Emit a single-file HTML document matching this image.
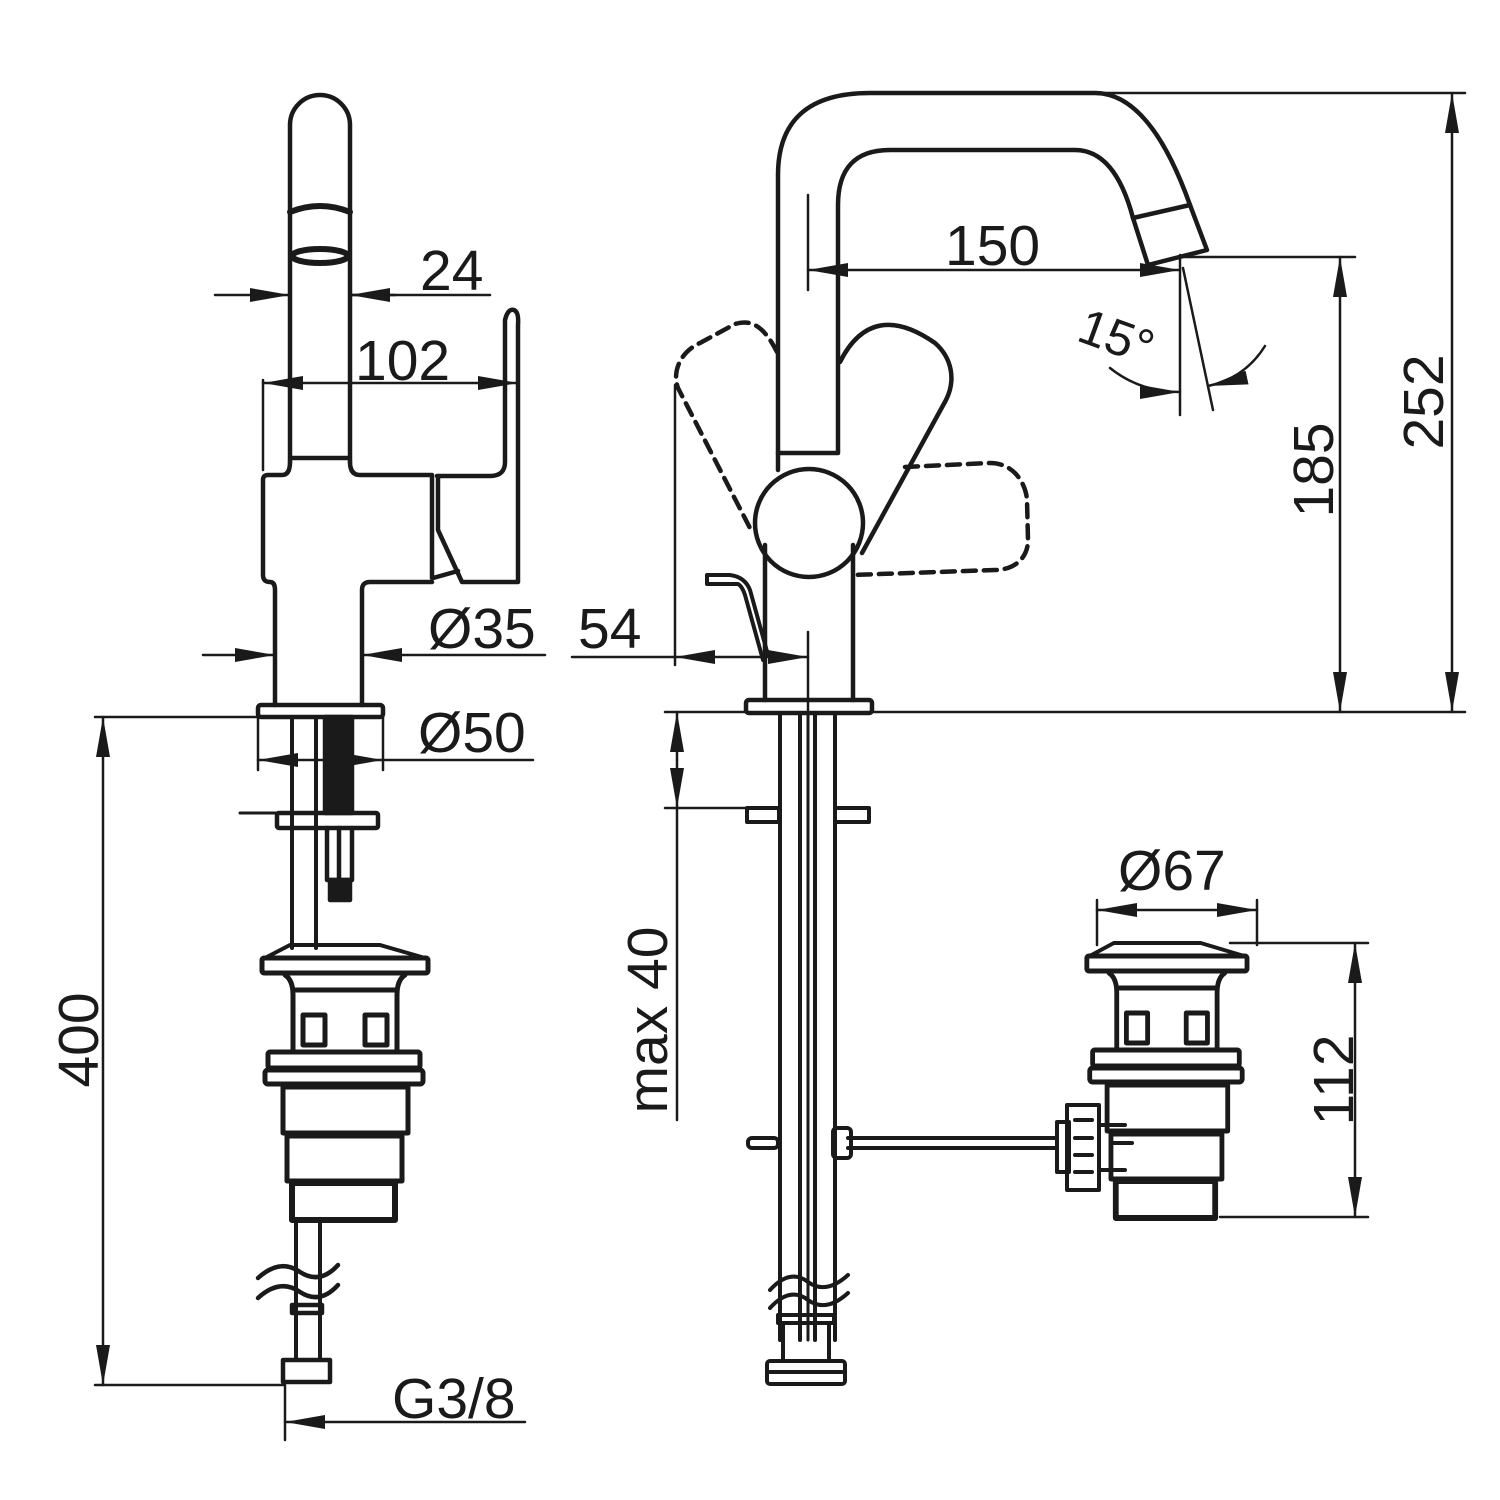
<!DOCTYPE html>
<html><head><meta charset="utf-8"><style>html,body{margin:0;padding:0;background:#fff}svg{display:block}text{font-family:"Liberation Sans",sans-serif;font-size:57px;fill:#1a1a1a}</style></head>
<body>
<svg width="1500" height="1500" viewBox="0 0 1500 1500" xmlns="http://www.w3.org/2000/svg">
<defs>
<marker id="a" viewBox="0 0 40 14" refX="40" refY="7" markerWidth="40" markerHeight="14" markerUnits="userSpaceOnUse" orient="auto-start-reverse"><path d="M0,0 L40,7 L0,14 Z" fill="#1a1a1a"/></marker>
<g id="drain" fill="none" stroke="#1a1a1a" stroke-width="5" stroke-linejoin="round">
<path d="M290,945 L380,945 L425,958 L265,958 Z" stroke-width="4"/>
<rect x="262" y="958" width="166" height="15" rx="2"/>
<path d="M285,975 Q293,980 293,995 L293,1050 M405,975 Q397,980 397,995 L397,1050"/>
<line x1="293" y1="990" x2="397" y2="990"/>
<rect x="303" y="1015" width="22" height="30"/><rect x="365" y="1015" width="22" height="30"/>
<rect x="268" y="1052" width="152" height="16" rx="2"/>
<rect x="265" y="1070" width="158" height="14" rx="3"/>
<rect x="283" y="1087" width="125" height="46"/>
<rect x="287" y="1136" width="115" height="45"/>
<rect x="292" y="1183" width="103" height="37" stroke-width="6"/>
</g>
</defs>
<g fill="none" stroke="#1a1a1a" stroke-width="4.5" stroke-linejoin="round" stroke-linecap="round">
<!-- LEFT VIEW -->
<path d="M290,462 L290,125 A30,30 0 0 1 350,125 L350,462"/>
<path d="M290,212 Q320,200 350,212" stroke-width="6"/>
<ellipse cx="320" cy="256" rx="28" ry="7" stroke-width="6"/>
<line x1="292" y1="458" x2="348" y2="458"/>
<path d="M290,462 Q290,475 282,475 L268,475 Q263,475 263,480 L263,575 Q263,582 270,582 Q275,582 275,590 L275,705"/>
<path d="M350,462 Q350,475 360,475 L432,475 M432,475 L432,578"/>
<path d="M437,476 L490,476 Q505,476 505,462 L505,320 Q508,308 514,310 Q519,312 518,325 L518,582 L462,582 L438,530 L438,478"/>
<path d="M433,578 L458,571"/>
<path d="M362,705 L362,590 Q362,582 370,582 L432,582"/>
<rect x="258" y="705" width="125" height="12" rx="3"/>
<line x1="292" y1="717" x2="292" y2="948" stroke-width="4"/>
<line x1="316" y1="717" x2="316" y2="948" stroke-width="4"/>
<rect x="325" y="717" width="27" height="96" fill="#1a1a1a"/>
<rect x="277" y="813" width="101" height="15" rx="2"/>
<line x1="240" y1="813" x2="277" y2="813" stroke-width="3"/>
<path d="M327,828 L327,880 L352,880 L352,828 M339,828 L339,880"/>
<rect x="330" y="880" width="20" height="20" fill="#1a1a1a"/>
<use href="#drain"/>
<path d="M296,1222 L296,1360 M320,1222 L320,1360" stroke-width="4"/>
<path d="M258,1278 Q280,1258 300,1272 Q320,1285 338,1265 M258,1298 Q280,1278 300,1292 Q320,1305 338,1285" stroke="#1a1a1a"/>
<rect x="292" y="1305" width="30" height="8"/>
<rect x="283" y="1360" width="47" height="22"/>
<!-- dims left -->
<g stroke-width="2.5">
<line x1="215" y1="295" x2="290" y2="295" marker-end="url(#a)"/>
<line x1="395" y1="295" x2="350" y2="295" marker-end="url(#a)"/>
<line x1="350" y1="295" x2="490" y2="295"/>
<line x1="263" y1="380" x2="263" y2="470"/>
<line x1="263" y1="383" x2="518" y2="383" marker-start="url(#a)" marker-end="url(#a)"/>
<line x1="203" y1="655" x2="275" y2="655" marker-end="url(#a)"/>
<line x1="545" y1="655" x2="362" y2="655" marker-end="url(#a)"/>
<line x1="258" y1="717" x2="258" y2="770"/><line x1="383" y1="717" x2="383" y2="770"/>
<line x1="258" y1="760" x2="383" y2="760" marker-start="url(#a)" marker-end="url(#a)"/>
<line x1="383" y1="760" x2="533" y2="760"/>
<line x1="95" y1="717" x2="258" y2="717"/>
<line x1="95" y1="1385" x2="283" y2="1385"/>
<line x1="103" y1="717" x2="103" y2="1385" marker-start="url(#a)" marker-end="url(#a)"/>
<line x1="285" y1="1385" x2="285" y2="1440"/>
<line x1="525" y1="1422" x2="285" y2="1422" marker-end="url(#a)"/>
</g>
<!-- RIGHT VIEW -->
<path d="M778,470 L778,175 Q778,93 870,93 L1095,93 Q1150,93 1190,205"/>
<path d="M838,452 L838,205 Q838,150 890,150 L1075,150 Q1115,150 1133,218"/>
<path d="M1133,218 L1190,205 L1207,250 L1148,265 Z"/>
<line x1="838" y1="453" x2="778" y2="453"/>
<circle cx="809" cy="523" r="54"/>
<path d="M765,545 L765,700 M853,545 L853,700"/>
<rect x="746" y="700" width="126" height="13" rx="3"/>
<path d="M840,362 C862,318 895,315 935,343 C952,358 956,380 946,400 L862,553"/>
<path d="M777,352 C762,322 748,320 735,324 L700,343 C680,352 672,372 678,388 L752,532" stroke-dasharray="13,8"/>
<path d="M905,467 L990,463 C1015,463 1026,485 1027,500 L1028,540 C1028,560 1012,570 995,570 L852,575" stroke-dasharray="13,8"/>
<path d="M707,575 L730,575 Q745,577 750,590 L768,655 M707,575 L707,584 L738,584 Q742,586 745,595 L763,660" stroke-width="4"/>
<!-- below right -->
<g stroke-width="4">
<line x1="780" y1="713" x2="780" y2="1340"/>
<line x1="800" y1="713" x2="800" y2="1340"/>
<line x1="808" y1="713" x2="808" y2="1340" stroke-width="3"/>
<line x1="815" y1="713" x2="815" y2="1340"/>
<line x1="835" y1="713" x2="835" y2="1340"/>
<rect x="747" y="808" width="32" height="14"/><rect x="835" y="808" width="34" height="14"/>
<line x1="665" y1="808" x2="747" y2="808" stroke-width="2.5"/>
<rect x="748" y="1138" width="30" height="10" rx="4"/>
<line x1="848" y1="1138" x2="1055" y2="1138"/><line x1="848" y1="1148" x2="1055" y2="1148"/>
<rect x="833" y="1128" width="18" height="30" rx="4"/>
<path d="M770,1290 Q790,1268 808,1282 Q826,1295 848,1275 M770,1308 Q790,1286 808,1300 Q826,1313 848,1293"/>
<rect x="778" y="1315" width="56" height="8"/>
<rect x="783" y="1323" width="46" height="38"/>
<rect x="767" y="1361" width="78" height="23" rx="3"/>
<line x1="770" y1="1372" x2="842" y2="1372"/>
</g>
<use href="#drain" transform="translate(834,-2) scale(0.965,1)" />
<g stroke-width="4">
<rect x="1057" y="1122" width="12" height="50"/>
<rect x="1067" y="1105" width="32" height="85"/>
<path d="M1075,1120 L1092,1120 M1075,1138 L1092,1138 M1075,1155 L1092,1155 M1075,1172 L1092,1172"/>
<path d="M1099,1125 L1125,1125 M1099,1170 L1125,1170 M1112,1143 L1132,1143"/>
</g>
<!-- dims right -->
<g stroke-width="2.5">
<line x1="1095" y1="93" x2="1465" y2="93"/>
<line x1="1180" y1="257" x2="1355" y2="257"/>
<line x1="870" y1="712" x2="1465" y2="712"/>
<line x1="808" y1="195" x2="808" y2="290"/>
<line x1="1180" y1="255" x2="1180" y2="415"/>
<line x1="808" y1="270" x2="1180" y2="270" marker-start="url(#a)" marker-end="url(#a)"/>
<line x1="1183" y1="268" x2="1213" y2="410"/>
<path d="M1110,368 Q1140,392 1180,392" marker-end="url(#a)"/>
<path d="M1265,346 Q1245,378 1208,386" marker-end="url(#a)"/>
<line x1="1340" y1="257" x2="1340" y2="712" marker-start="url(#a)" marker-end="url(#a)"/>
<line x1="1452" y1="93" x2="1452" y2="712" marker-start="url(#a)" marker-end="url(#a)"/>
<line x1="675" y1="385" x2="675" y2="665"/>
<line x1="808" y1="632" x2="808" y2="712"/>
<line x1="572" y1="657" x2="675" y2="657"/>
<line x1="675" y1="657" x2="808" y2="657" marker-start="url(#a)" marker-end="url(#a)"/>
<line x1="665" y1="712" x2="746" y2="712"/>
<line x1="677" y1="760" x2="677" y2="712" marker-end="url(#a)"/>
<line x1="677" y1="760" x2="677" y2="808" marker-end="url(#a)"/>
<line x1="677" y1="808" x2="677" y2="1120"/>
<line x1="1097" y1="900" x2="1097" y2="945"/><line x1="1257" y1="900" x2="1257" y2="945"/>
<line x1="1097" y1="910" x2="1257" y2="910" marker-start="url(#a)" marker-end="url(#a)"/>
<line x1="1230" y1="943" x2="1368" y2="943"/>
<line x1="1220" y1="1217" x2="1368" y2="1217"/>
<line x1="1355" y1="943" x2="1355" y2="1217" marker-start="url(#a)" marker-end="url(#a)"/>
</g>
</g>
<g>
<text x="420" y="290">24</text>
<text x="355" y="380">102</text>
<text x="428" y="648">Ø35</text>
<text x="418" y="752">Ø50</text>
<text x="392" y="1418">G3/8</text>
<text transform="translate(98,1040) rotate(-90)" text-anchor="middle">400</text>
<text x="945" y="265">150</text>
<text x="578" y="648">54</text>
<text x="1118" y="890">Ø67</text>
<text transform="translate(1333,470) rotate(-90)" text-anchor="middle">185</text>
<text transform="translate(1443,402) rotate(-90)" text-anchor="middle">252</text>
<text transform="translate(667,1020) rotate(-90)" text-anchor="middle">max 40</text>
<text transform="translate(1353,1080) rotate(-90)" text-anchor="middle">112</text>
<text transform="translate(1075,340) rotate(20)" style="font-size:50px">15°</text>
</g>
</svg>
</body></html>
